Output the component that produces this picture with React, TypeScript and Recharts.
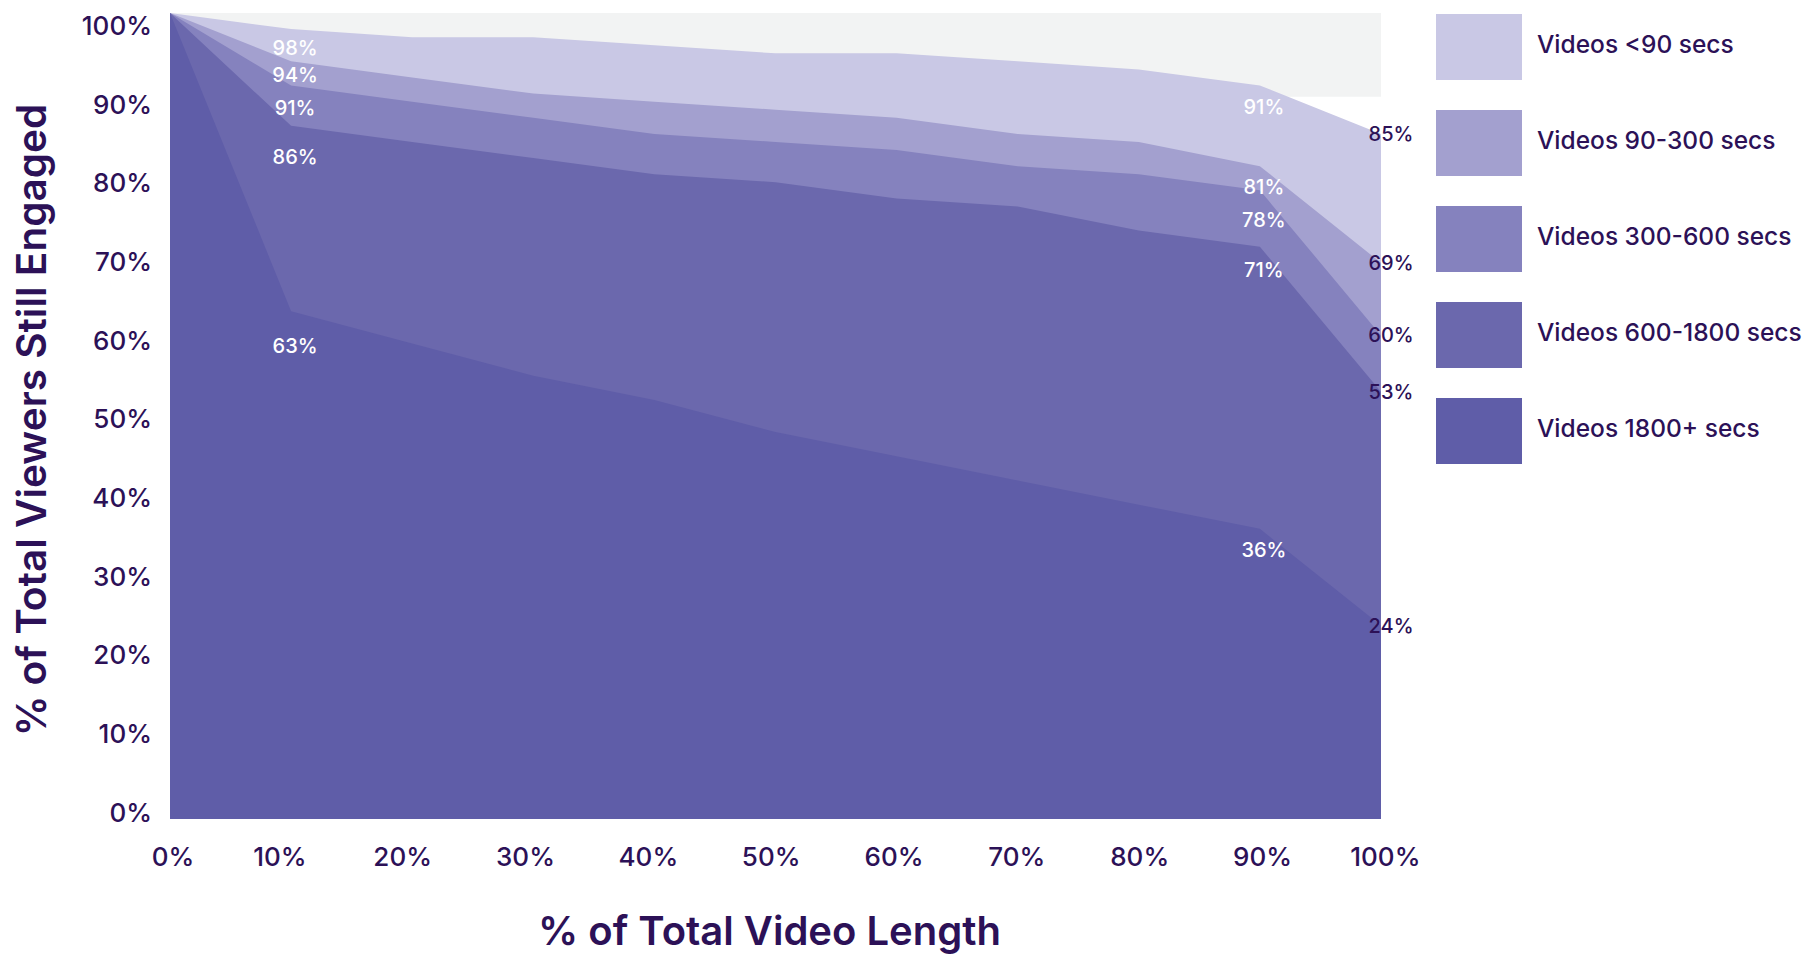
import { AreaChart, Area, XAxis, YAxis, ReferenceArea, LabelList, Label } from 'recharts';

// % of total video length (x) and % of viewers still engaged for each length bucket
const videoProgress = [0, 10, 20, 30, 40, 50, 60, 70, 80, 90, 100];
const under90 = [100, 98, 97, 97, 96, 95, 95, 94, 93, 91, 85];
const from90to300 = [100, 94, 92, 90, 89, 88, 87, 85, 84, 81, 69];
const from300to600 = [100, 91, 89, 87, 85, 84, 83, 81, 80, 78, 60];
const from600to1800 = [100, 86, 84, 82, 80, 79, 77, 76, 73, 71, 53];
const over1800 = [100, 63, 59, 55, 52, 48, 45, 42, 39, 36, 24];
const percentTicks = [0, 10, 20, 30, 40, 50, 60, 70, 80, 90, 100];
const backdropFrom = 89.6;

const TEXT = '#2c1157';
const FONT = 'Inter, "Noto Sans", sans-serif';

const series = [
  { key: 'under90', name: 'Videos <90 secs', values: under90, color: '#c9c8e5', dy10: 19, dy90: 21 },
  { key: 'from90to300', name: 'Videos 90-300 secs', values: from90to300, color: '#a3a0cf', dy10: 14, dy90: 21 },
  { key: 'from300to600', name: 'Videos 300-600 secs', values: from300to600, color: '#8582be', dy10: 22, dy90: 30 },
  { key: 'from600to1800', name: 'Videos 600-1800 secs', values: from600to1800, color: '#6b68ad', dy10: 31, dy90: 23 },
  { key: 'over1800', name: 'Videos 1800+ secs', values: over1800, color: '#5f5da8', dy10: 35, dy90: 21 },
];

const data = videoProgress.map((x, i) => {
  const row: Record<string, number> = { x };
  series.forEach((s) => {
    row[s.key] = s.values[i];
  });
  return row;
});

const lastIndex = videoProgress.length - 1;

const makeValueLabel = (dy10: number, dy90: number) => (props: any) => {
  const { index, value } = props;
  const x = props.x ?? props.viewBox?.x;
  const y = props.y ?? props.viewBox?.y;
  const v = Array.isArray(value) ? value[value.length - 1] : value;
  if (x == null || y == null) return null;
  if (index === lastIndex) {
    return (
      <text x={x + 10} y={y} textAnchor="middle" dominantBaseline="central" fill={TEXT} fontSize={20} fontWeight={500} fontFamily={FONT}>
        {v}%
      </text>
    );
  }
  if (index === 1 || index === lastIndex - 1) {
    return (
      <text x={x + 4} y={y + (index === 1 ? dy10 : dy90)} textAnchor="middle" dominantBaseline="central" fill="#ffffff" fontSize={20} fontWeight={500} fontFamily={FONT}>
        {v}%
      </text>
    );
  }
  return null;
};

const XTick = ({ x, y, payload }: any) => {
  const v = payload.value;
  const shift = v === 0 ? 3 : -13 + 0.174 * v;
  return (
    <text x={x + shift} y={y + 29} textAnchor="middle" dominantBaseline="central" fill={TEXT} fontSize={26} fontWeight={500} fontFamily={FONT}>
      {v}%
    </text>
  );
};

const YTick = ({ x, y, payload }: any) => {
  const v = payload.value;
  return (
    <text x={x - 10} y={y - 6.9 + 0.196 * v} textAnchor="end" dominantBaseline="central" fill={TEXT} fontSize={26} fontWeight={500} fontFamily={FONT}>
      {v}%
    </text>
  );
};

const App = () => {
  return (
    <div style={{ position: 'absolute', left: 0, top: 0, width: 1818, height: 955, background: '#fff', fontFamily: FONT }}>
      <AreaChart width={1818} height={955} data={data} margin={{ top: 13, right: 437, bottom: 0, left: 0 }}>
        <XAxis
          dataKey="x"
          type="number"
          domain={[0, 100]}
          ticks={percentTicks}
          height={136}
          axisLine={false}
          tickLine={false}
          tick={<XTick />}
        >
          <Label
            content={({ viewBox }: any) => (
              <text x={viewBox.x + viewBox.width / 2 - 6} y={viewBox.y + 111} textAnchor="middle" dominantBaseline="central" fill={TEXT} fontSize={40} fontWeight={600} fontFamily={FONT}>
                % of Total Video Length
              </text>
            )}
          />
        </XAxis>
        <YAxis
          type="number"
          domain={[0, 100]}
          ticks={percentTicks}
          width={170}
          axisLine={false}
          tickLine={false}
          tick={<YTick />}
        >
          <Label
            content={({ viewBox }: any) => {
              const cx = viewBox.x + 31;
              const cy = viewBox.y + viewBox.height / 2 + 4;
              return (
                <text x={cx} y={cy} transform={`rotate(-90, ${cx}, ${cy})`} textAnchor="middle" dominantBaseline="central" fill={TEXT} fontSize={40.5} fontWeight={600} fontFamily={FONT}>
                  % of Total Viewers Still Engaged
                </text>
              );
            }}
          />
        </YAxis>
        <ReferenceArea x1={0} x2={100} y1={backdropFrom} y2={100} fill="#f2f3f3" fillOpacity={1} stroke="none" />
        {series.map((s) => (
          <Area
            key={s.key}
            type="linear"
            dataKey={s.key}
            name={s.name}
            fill={s.color}
            fillOpacity={1}
            stroke="none"
            dot={false}
            activeDot={false}
            isAnimationActive={false}
          >
            <LabelList dataKey={s.key} content={makeValueLabel(s.dy10, s.dy90)} />
          </Area>
        ))}
      </AreaChart>

      {/* legend */}
      <div style={{ position: 'absolute', left: 1436, top: 14 }}>
        {series.map((s, i) => (
          <div key={s.key} style={{ display: 'flex', alignItems: 'center', height: 66, marginBottom: i < series.length - 1 ? 30 : 0 }}>
            <div style={{ width: 86, height: 66, background: s.color }} />
            <span style={{ marginLeft: 15, marginTop: -6, fontSize: 24.5, fontWeight: 500, color: TEXT, whiteSpace: 'nowrap' }}>{s.name}</span>
          </div>
        ))}
      </div>
    </div>
  );
};

export default App;
